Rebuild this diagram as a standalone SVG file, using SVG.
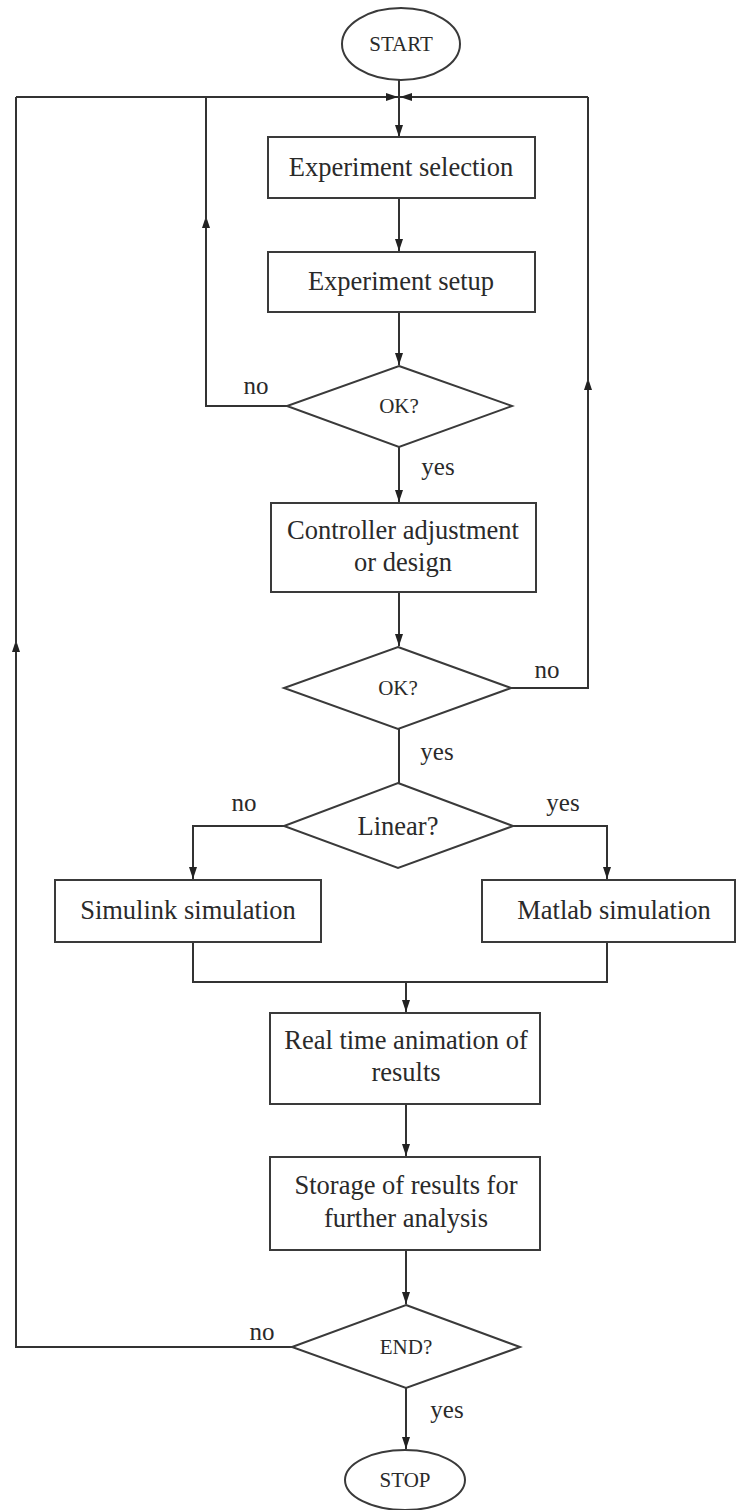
<svg xmlns="http://www.w3.org/2000/svg" width="736" height="1510" viewBox="0 0 736 1510">
<style>
.n{fill:#fff;stroke:#3a3a3a;stroke-width:2}
.t{font-family:'Liberation Serif','DejaVu Serif',serif;fill:#2a2a2a;text-anchor:middle}
.b{font-size:26.5px}
.s{font-size:21px}
.l{font-size:25px}
.c{fill:none;stroke:#333;stroke-width:2}
</style>
<defs>
<marker id="a" viewBox="0 0 12 8" refX="12" refY="4" markerWidth="12" markerHeight="8" markerUnits="userSpaceOnUse" orient="auto"><path d="M0,0 L12,4 L0,8 z" fill="#222"/></marker>
</defs>
<g id="connectors">
<path class="c" d="M399,80 V137" marker-end="url(#a)"/>
<path class="c" d="M16,97 H398" marker-end="url(#a)"/>
<path class="c" d="M588,97 H400" marker-end="url(#a)"/>
<path class="c" d="M399,198 V251" marker-end="url(#a)"/>
<path class="c" d="M399,312 V365" marker-end="url(#a)"/>
<path class="c" d="M288,406 H206 V216" marker-end="url(#a)"/>
<path class="c" d="M206,220 V97"/>
<path class="c" d="M399,447 V502" marker-end="url(#a)"/>
<path class="c" d="M399,592 V646" marker-end="url(#a)"/>
<path class="c" d="M511,688 H588 V378" marker-end="url(#a)"/>
<path class="c" d="M588,382 V97"/>
<path class="c" d="M399,729 V783"/>
<path class="c" d="M284,826 H193 V879" marker-end="url(#a)"/>
<path class="c" d="M513,826 H607 V879" marker-end="url(#a)"/>
<path class="c" d="M193,942 V982 H607 V942"/>
<path class="c" d="M406,982 V1012" marker-end="url(#a)"/>
<path class="c" d="M406,1104 V1156" marker-end="url(#a)"/>
<path class="c" d="M406,1250 V1304" marker-end="url(#a)"/>
<path class="c" d="M292,1347 H16 V640" marker-end="url(#a)"/>
<path class="c" d="M16,644 V97"/>
<path class="c" d="M406,1388 V1449" marker-end="url(#a)"/>
<text class="t l" x="256" y="394">no</text>
<text class="t l" x="438" y="475">yes</text>
<text class="t l" x="547" y="678">no</text>
<text class="t l" x="437" y="760">yes</text>
<text class="t l" x="244" y="811">no</text>
<text class="t l" x="563" y="811">yes</text>
<text class="t l" x="262" y="1340">no</text>
<text class="t l" x="447" y="1418">yes</text>
</g>
<g id="start">
<ellipse class="n" cx="401" cy="44" rx="59" ry="36"/>
<text class="t s" x="401" y="51">START</text>
</g>
<g id="exp-selection">
<rect class="n" x="268" y="137" width="267" height="61"/>
<text class="t b" x="401" y="176">Experiment selection</text>
</g>
<g id="exp-setup">
<rect class="n" x="268" y="252" width="267" height="60"/>
<text class="t b" x="401" y="290">Experiment setup</text>
</g>
<g id="ok1">
<polygon class="n" points="399,366 512,406 399,447 287,406"/>
<text class="t s" x="399" y="413">OK?</text>
</g>
<g id="controller">
<rect class="n" x="271" y="503" width="265" height="89"/>
<text class="t b" x="403" y="539">Controller adjustment</text>
<text class="t b" x="403" y="571">or design</text>
</g>
<g id="ok2">
<polygon class="n" points="398,647 511,688 398,729 284,688"/>
<text class="t s" x="398" y="695">OK?</text>
</g>
<g id="linear">
<polygon class="n" points="398,783 513,826 398,868 284,826"/>
<text class="t b" x="398" y="835">Linear?</text>
</g>
<g id="simulink">
<rect class="n" x="55" y="880" width="266" height="62"/>
<text class="t b" x="188" y="919">Simulink simulation</text>
</g>
<g id="matlab">
<rect class="n" x="482" y="880" width="253" height="62"/>
<text class="t b" x="614" y="919">Matlab simulation</text>
</g>
<g id="animation">
<rect class="n" x="270" y="1013" width="270" height="91"/>
<text class="t b" x="406" y="1049">Real time animation of</text>
<text class="t b" x="406" y="1081">results</text>
</g>
<g id="storage">
<rect class="n" x="270" y="1157" width="270" height="93"/>
<text class="t b" x="406" y="1194">Storage of results for</text>
<text class="t b" x="406" y="1227">further analysis</text>
</g>
<g id="end">
<polygon class="n" points="406,1305 520,1347 406,1388 292,1347"/>
<text class="t s" x="406" y="1354">END?</text>
</g>
<g id="stop">
<ellipse class="n" cx="405" cy="1480" rx="60" ry="30"/>
<text class="t s" x="405" y="1487">STOP</text>
</g>
</svg>
